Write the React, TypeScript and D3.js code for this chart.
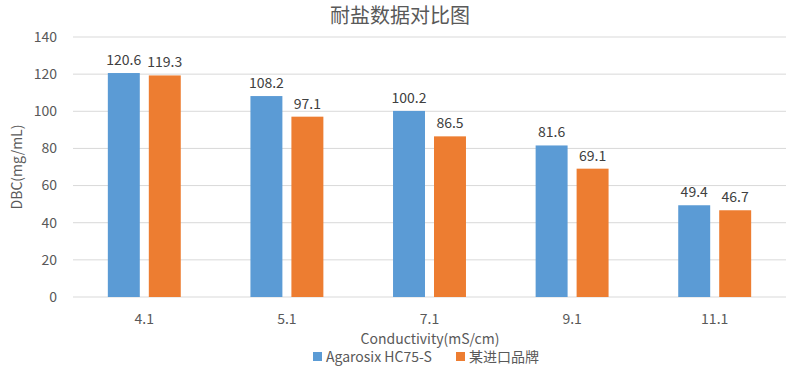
import { scaleBand, scaleLinear } from "d3";

const width = 800;
const height = 367;

const categories = ["4.1", "5.1", "7.1", "9.1", "11.1"];
const seriesNames = ["Agarosix HC75-S", "某进口品牌"];
const agarosix = [120.6, 108.2, 100.2, 81.6, 49.4];
const imported = [119.3, 97.1, 86.5, 69.1, 46.7];
const yTicks = [0, 20, 40, 60, 80, 100, 120, 140];
const colors = ["#5B9BD5", "#ED7D31"];

const font = "'Noto Sans CJK SC', 'Noto Sans', sans-serif";
const textColor = "#595959";

export default function App() {
    const left = 73;
    const right = 786;
    const top = 37;
    const bottom = 297;

    const x0 = scaleBand().domain(categories).range([left, right]).padding(0);
    const x1 = scaleBand()
        .domain(seriesNames)
        .range([0, x0.bandwidth()])
        .paddingInner(0.22)
        .paddingOuter(0.85);
    const y = scaleLinear().domain([0, 140]).range([bottom, top]);

    const series = [agarosix, imported];

    return (
        <svg width={width} height={height} style={{ position: "absolute", left: 0, top: 0, background: "#fff" }} fontFamily={font}>
            <text x={400} y={23} textAnchor="middle" fontSize={20} fill={textColor}>耐盐数据对比图</text>

            {yTicks.map(t => (
                <g key={t}>
                    <line x1={left} x2={right} y1={y(t)} y2={y(t)} stroke="#D9D9D9" strokeWidth={1} />
                    <text x={57} y={y(t)} dy="0.35em" textAnchor="end" fontSize={14} fill={textColor}>{t}</text>
                </g>
            ))}

            {categories.map((c, i) => (
                <g key={c}>
                    {series.map((s, j) => {
                        const bx = x0(c)! + x1(seriesNames[j])!;
                        return (
                            <g key={j}>
                                <rect x={bx} y={y(s[i])} width={x1.bandwidth()} height={y(0) - y(s[i])} fill={colors[j]} />
                                <text x={bx + x1.bandwidth() / 2} y={y(s[i]) - 8} textAnchor="middle" fontSize={14} fill="#404040">{s[i]}</text>
                            </g>
                        );
                    })}
                    <text x={x0(c)! + x0.bandwidth() / 2} y={324} textAnchor="middle" fontSize={14} fill={textColor}>{c}</text>
                </g>
            ))}

            <text x={430} y={344} textAnchor="middle" fontSize={14} fill={textColor}>Conductivity(mS/cm)</text>
            <text transform={`translate(22,${(top + bottom) / 2}) rotate(-90)`} textAnchor="middle" fontSize={14} fill={textColor}>DBC(mg/mL)</text>

            <rect x={313} y={352} width={9} height={9} fill={colors[0]} />
            <text x={326} y={362} fontSize={14} fill={textColor}>{seriesNames[0]}</text>
            <rect x={456} y={352} width={9} height={9} fill={colors[1]} />
            <text x={469} y={362} fontSize={14} fill={textColor}>{seriesNames[1]}</text>
        </svg>
    );
}
